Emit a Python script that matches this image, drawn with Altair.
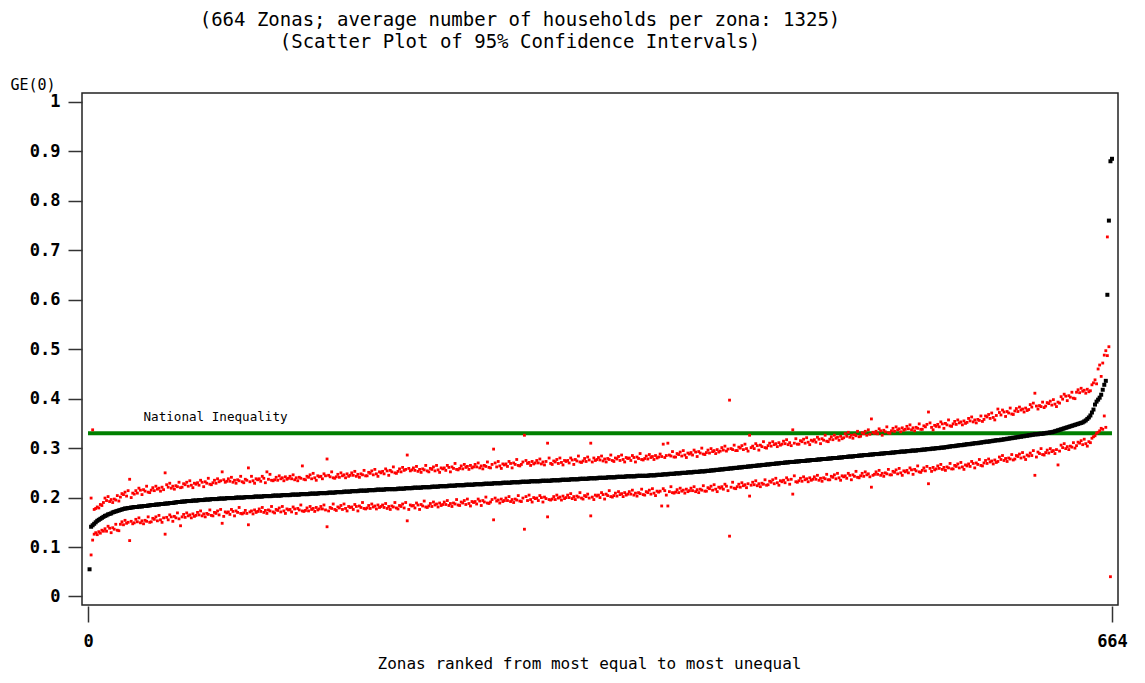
import altair as alt
import pandas as pd

TITLE_LINES = ["(664 Zonas; average number of households per zona: 1325)",
               "(Scatter Plot of 95% Confidence Intervals)"]
X_TITLE = "Zonas ranked from most equal to most unequal"
Y_TITLE = "GE(0)"
X_TICKS = [0, 664]
Y_TICKS = [0, 0.1, 0.2, 0.3, 0.4, 0.5, 0.6, 0.7, 0.8, 0.9, 1.0]
NATIONAL = 0.33
NATIONAL_LABEL = "National Inequality"
LABEL_RANK = 36
LABEL_VALUE = 0.363

# GE(0) point estimates (x1000), zones ranked 1..664
black = [
55,141,144,147,150,153,155,157,159,161,
163,164,166,167,168,170,171,172,173,174,
175,176,177,178,178,179,179,180,180,181,
181,181,182,182,182,183,183,183,184,184,
185,185,185,186,186,186,187,187,187,188,
188,188,189,189,189,190,190,191,191,191,
192,192,192,193,193,193,193,194,194,194,
194,195,195,195,195,196,196,196,196,197,
197,197,197,197,198,198,198,198,198,199,
199,199,199,199,199,200,200,200,200,200,
200,201,201,201,201,201,201,202,202,202,
202,202,202,203,203,203,203,203,203,204,
204,204,204,204,204,205,205,205,205,205,
205,206,206,206,206,206,206,207,207,207,
207,207,207,208,208,208,208,208,208,209,
209,209,209,209,209,210,210,210,210,210,
211,211,211,211,211,212,212,212,212,212,
213,213,213,213,213,214,214,214,214,214,
214,215,215,215,215,215,216,216,216,216,
216,216,217,217,217,217,217,217,217,217,
218,218,218,218,218,219,219,219,219,219,
220,220,220,220,220,220,221,221,221,221,
221,221,222,222,222,222,222,223,223,223,
223,223,223,224,224,224,224,224,225,225,
225,225,225,225,226,226,226,226,226,226,
227,227,227,227,227,227,228,228,228,228,
228,228,229,229,229,229,229,229,230,230,
230,230,230,230,231,231,231,231,231,231,
232,232,232,232,232,232,233,233,233,233,
233,233,233,234,234,234,234,234,234,234,
235,235,235,235,235,235,236,236,236,236,
236,236,237,237,237,237,237,237,238,238,
238,238,238,238,239,239,239,239,239,239,
240,240,240,240,240,240,241,241,241,241,
241,241,242,242,242,242,242,242,243,243,
243,243,243,243,243,244,244,244,244,244,
244,244,244,245,245,245,245,245,246,246,
246,246,247,247,247,247,248,248,248,248,
249,249,249,249,250,250,250,250,251,251,
251,251,252,252,252,252,253,253,253,253,
254,254,254,255,255,255,256,256,256,257,
257,257,258,258,258,259,259,259,260,260,
260,261,261,261,262,262,262,263,263,263,
264,264,264,265,265,265,266,266,266,267,
267,267,268,268,268,269,269,269,270,270,
270,271,271,271,272,272,272,272,273,273,
273,274,274,274,274,275,275,275,276,276,
276,276,277,277,277,278,278,278,278,279,
279,279,280,280,280,280,281,281,281,282,
282,282,283,283,283,283,284,284,284,285,
285,285,286,286,286,286,287,287,287,288,
288,288,288,289,289,289,290,290,290,290,
291,291,291,292,292,292,293,293,293,293,
294,294,294,295,295,295,295,296,296,296,
297,297,297,298,298,298,299,299,299,300,
300,300,301,301,301,302,302,303,303,304,
304,304,305,305,306,306,306,307,307,308,
308,308,309,309,310,310,310,311,311,312,
312,313,313,313,314,314,315,315,316,316,
316,317,317,318,318,319,319,320,320,321,
321,322,322,323,323,324,324,325,325,326,
326,327,327,328,328,328,329,329,329,330,
330,331,331,332,332,333,334,335,336,337,
338,339,340,341,342,343,344,345,346,347,
348,349,350,351,352,354,356,359,362,366,
372,378,388,394,398,402,408,418,428,436,
610,760,880,885]

# upper 95% bounds (x1000); None = outside the plotted range
upper = [
None,199,337,176,178,181,179,186,184,190,
199,194,202,192,196,190,197,195,204,193,
201,208,206,211,203,214,237,200,209,207,
214,209,219,215,206,216,213,223,211,210,
215,220,214,223,217,219,213,221,216,250,
226,221,229,219,223,217,224,222,231,220,
221,228,226,231,223,234,225,220,229,227,
230,225,235,231,222,232,229,239,227,226,
230,235,229,238,232,234,252,236,231,233,
238,233,241,231,235,229,236,234,243,232,
230,237,235,260,232,243,234,229,238,236,
238,233,243,239,230,252,237,247,235,234,
236,241,235,244,238,240,234,242,237,239,
243,238,246,236,240,234,241,239,264,237,
236,243,241,246,238,249,240,235,244,242,
243,238,248,244,278,245,242,252,240,239,
242,247,241,250,244,246,240,248,243,245,
250,245,253,243,247,241,248,246,255,244,
244,251,249,254,246,257,248,243,252,250,
253,248,258,254,245,255,252,262,250,249,
253,258,252,261,255,257,286,259,254,256,
260,255,263,253,257,251,258,256,265,254,
252,259,257,262,254,265,256,251,260,258,
260,255,265,261,252,262,259,269,257,256,
259,264,258,267,261,263,257,265,260,262,
267,262,270,260,264,258,265,263,272,261,
260,267,298,270,262,273,264,259,268,266,
268,263,273,269,260,270,267,277,265,264,
267,272,326,275,269,271,265,273,268,270,
275,270,278,268,272,266,273,310,280,269,
267,274,272,277,269,280,271,266,275,273,
275,270,280,276,267,277,274,284,272,271,
274,279,273,282,276,310,272,280,275,277,
281,276,284,274,278,272,279,277,286,275,
273,280,278,283,275,286,277,272,281,279,
280,275,285,281,272,282,279,289,277,276,
279,284,278,287,281,283,277,285,280,282,
288,283,308,281,285,310,286,284,293,282,
282,289,287,292,284,295,286,281,290,288,
291,286,296,292,283,293,290,300,288,287,
291,296,290,299,293,295,289,297,292,294,
301,296,304,294,298,397,299,297,306,295,
295,302,300,305,297,308,299,294,326,301,
304,299,309,305,296,306,303,313,301,300,
305,310,304,313,307,309,303,311,306,308,
314,309,317,307,311,305,337,310,319,308,
308,315,313,318,310,321,312,307,316,314,
317,312,322,318,309,319,316,326,314,313,
318,323,317,326,320,322,316,324,319,321,
329,324,332,322,326,320,327,325,334,323,
324,331,329,334,326,337,328,359,332,330,
334,329,339,335,326,336,333,343,331,330,
335,340,334,343,337,339,333,341,336,338,
344,339,347,337,341,335,342,340,349,338,
338,345,343,348,373,351,342,337,346,344,
348,343,353,349,340,350,347,357,345,344,
349,354,348,357,351,353,347,355,350,352,
360,355,363,353,357,351,358,356,365,354,
358,365,363,368,360,371,362,357,366,379,
372,367,377,373,364,374,371,381,369,368,
375,380,374,383,377,379,373,381,376,378,
388,383,391,411,385,379,386,384,393,382,
385,392,390,395,387,398,389,384,393,391,
404,399,409,405,396,406,403,413,401,400,
413,418,412,421,415,417,411,419,414,416,
428,432,438,430,460,468,445,472,488,497,
727,None,None,None]

# lower 95% bounds (x1000)
lower = [
None,84,114,126,129,125,131,128,134,132,
137,132,142,138,129,139,136,146,134,133,
146,151,145,154,148,150,113,152,147,149,
156,151,159,149,153,147,154,152,161,150,
151,158,156,161,153,164,155,150,159,126,
160,155,165,161,152,162,159,169,157,143,
161,166,160,169,163,165,159,167,162,164,
170,165,173,163,167,161,168,166,175,164,
163,170,168,173,165,176,148,162,171,169,
171,166,176,172,163,173,170,180,168,167,
169,174,168,145,171,173,167,175,170,172,
177,172,180,170,174,168,175,173,182,171,
169,176,174,179,171,182,173,168,177,175,
176,171,181,177,168,178,175,185,173,172,
174,179,173,182,176,178,172,180,175,177,
182,177,185,175,141,173,180,178,187,176,
174,181,179,184,176,187,178,173,182,180,
181,176,186,182,173,183,180,190,178,177,
179,184,178,187,181,183,177,185,180,182,
185,180,188,178,182,176,183,181,190,179,
177,184,182,187,179,190,153,176,185,183,
184,179,189,185,176,186,183,193,181,180,
183,188,182,191,185,187,181,189,184,186,
191,186,194,184,188,182,189,187,196,185,
184,191,189,194,186,197,188,183,192,190,
192,187,197,193,184,194,191,201,189,188,
191,196,155,199,193,195,189,197,192,194,
199,194,202,192,196,190,197,195,204,193,
192,199,136,202,194,205,196,191,200,198,
199,194,204,200,191,201,198,161,196,195,
197,202,196,205,199,201,195,203,198,200,
205,200,208,198,202,196,203,201,210,199,
197,204,202,207,199,163,201,196,205,203,
205,200,210,206,197,207,204,214,202,201,
204,209,203,212,206,208,202,210,205,207,
212,207,215,205,209,203,210,208,217,206,
205,212,210,215,207,218,209,204,213,211,
213,183,218,214,205,183,212,222,210,209,
211,216,210,219,213,215,209,217,212,214,
219,214,222,212,216,210,217,215,224,213,
213,220,218,223,215,226,217,212,221,219,
222,217,227,223,214,122,221,231,219,218,
222,227,221,230,224,226,220,228,203,225,
231,226,234,224,228,222,229,227,236,225,
226,233,231,236,228,239,230,225,234,232,
235,230,240,236,227,237,207,244,232,231,
234,239,233,242,236,238,232,240,235,237,
242,237,245,235,239,233,240,238,247,236,
236,243,241,246,238,249,240,235,244,242,
244,239,249,245,236,246,243,253,241,240,
244,249,243,252,246,248,242,221,245,247,
252,247,255,245,249,243,250,248,257,246,
246,253,251,256,248,259,250,245,254,252,
255,250,260,256,247,257,254,264,252,251,
255,260,254,263,228,259,253,261,256,258,
264,259,267,257,261,255,262,260,269,258,
258,265,263,268,260,271,262,257,266,264,
268,263,273,269,260,270,267,277,265,264,
270,275,269,278,272,274,268,276,271,273,
282,277,285,275,279,273,280,278,287,276,
278,285,283,288,280,291,282,277,286,284,
290,285,295,245,282,292,289,299,287,286,
291,296,290,299,293,295,289,297,266,294,
306,301,309,299,303,297,304,302,311,300,
305,312,310,315,307,318,309,304,313,311,
320,323,325,330,332,335,340,338,365,342,
487,505,40,None]


def series_frame(values, name):
    rows = []
    for i, v in enumerate(values):
        if v is None:
            continue
        rows.append({"rank": i + 1, "value": v / 1000.0, "series": name})
    return pd.DataFrame(rows)


est_df = series_frame(black, "estimate")
ci_df = pd.concat([series_frame(upper, "upper"), series_frame(lower, "lower")],
                  ignore_index=True)
rule_df = pd.DataFrame({"rank": [X_TICKS[0]], "rank_end": [X_TICKS[1]], "value": [NATIONAL]})
label_df = pd.DataFrame({"rank": [LABEL_RANK], "value": [LABEL_VALUE], "label": [NATIONAL_LABEL]})

MONO = "DejaVu Sans Mono"

x_scale = alt.Scale(domain=[-3.9, 667.9], nice=False, zero=False)
y_scale = alt.Scale(domain=[-0.0172, 1.018], nice=False, zero=False)

x_axis = alt.Axis(values=X_TICKS, title=X_TITLE, domain=False, grid=False, offset=1,
                  tickSize=16, tickColor="#333333", tickWidth=1.5, labelFlush=False,
                  labelFont=MONO, labelFontSize=17, labelFontWeight="bold",
                  labelColor="black", labelPadding=11,
                  titleFont=MONO, titleFontSize=16, titleFontWeight="normal",
                  titleColor="black", titleX=507, titleY=57, titleBaseline="middle")
y_axis = alt.Axis(values=Y_TICKS, format=".1~f", title=Y_TITLE, titleAngle=0,
                  titleX=-72, titleY=-9, titleAlign="left", titleBaseline="middle",
                  titleFont=MONO, titleFontSize=15, titleFontWeight="normal",
                  titleColor="black", domain=False, grid=False, tickSize=14,
                  tickColor="#333333", tickWidth=1.5, labelFont=MONO,
                  labelFontSize=17, labelFontWeight="bold", labelPadding=8,
                  labelColor="black")

X = alt.X("rank:Q", scale=x_scale, axis=x_axis)
Y = alt.Y("value:Q", scale=y_scale, axis=y_axis)

rule = alt.Chart(rule_df).mark_rule(color="#008000", strokeWidth=4).encode(
    x=X, x2="rank_end:Q", y=Y)
ci = alt.Chart(ci_df).mark_square(size=8, color="#ff0000", opacity=1).encode(x=X, y=Y)
est = alt.Chart(est_df).mark_square(size=16, color="#000000", opacity=1).encode(x=X, y=Y)
label = alt.Chart(label_df).mark_text(font=MONO, fontSize=12.6, align="left",
                                      baseline="middle", color="black").encode(
    x=X, y=Y, text="label:N")

chart = alt.layer(rule, ci, est, label).properties(
    width=1036,
    height=512,
    title=alt.TitleParams(text=TITLE_LINES, font=MONO, fontSize=19, fontWeight="normal",
                          color="black", anchor="middle", frame="group", dx=-80,
                          offset=25, lineHeight=22),
    autosize=alt.AutoSizeParams(type="none"),
    padding={"left": 74, "top": 85, "right": 12, "bottom": 70},
    background="white",
).configure_view(stroke="#222222", strokeWidth=1.5)

chart.save("out.html", embed_options={"renderer": "svg", "actions": False})
